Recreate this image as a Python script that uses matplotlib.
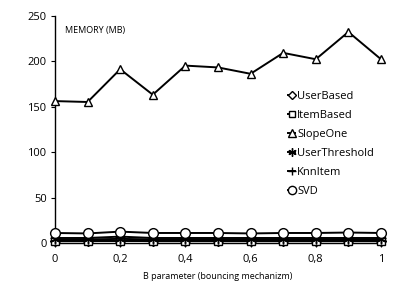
import matplotlib
matplotlib.use("Agg")
import matplotlib.pyplot as plt

plt.rcParams['font.family'] = ['Open Sans', 'DejaVu Sans']

b_param = [0, 0.1, 0.2, 0.3, 0.4, 0.5, 0.6, 0.7, 0.8, 0.9, 1.0]
user_based = [2, 2, 2, 2, 2, 2, 2, 2, 2, 2, 2]
item_based = [2, 2, 2.5, 2, 2, 2, 2, 2, 2, 2, 2]
slope_one = [156, 155, 191, 163, 195, 193, 186, 209, 202, 232, 202]
user_threshold = [4, 4, 4.5, 4, 4, 4, 4, 4, 4, 4, 4]
knn_item = [5.5, 5.5, 7, 5.5, 5.5, 5.5, 5.5, 5.5, 5.5, 5.5, 5.5]
svd = [11, 10.5, 12.5, 11, 11, 11, 10.5, 11, 11, 11.5, 11]

x_ticks = [0, 0.2, 0.4, 0.6, 0.8, 1.0]
x_tick_labels = ['0', '0,2', '0,4', '0,6', '0,8', '1']
y_ticks = [0, 50, 100, 150, 200, 250]

series = [
    ('UserBased', user_based, 'D', 5),
    ('ItemBased', item_based, 's', 5.5),
    ('SlopeOne', slope_one, '^', 6),
    ('UserThreshold', user_threshold, (6, 2, 0), 7),
    ('KnnItem', knn_item, '+', 7),
    ('SVD', svd, 'o', 7),
]

fig = plt.figure(figsize=(4.15, 2.94), dpi=100)
ax = fig.add_axes([0.1325, 0.1735, 0.7855, 0.7735])

for name, vals, marker, ms in series:
    ax.plot(b_param, vals, color='black', lw=1.4, marker=marker, ms=ms,
            mfc='white', mec='black', mew=1.0, label=name, clip_on=False, zorder=3)

ax.set_xlim(0, 1)
ax.set_ylim(0, 250)
ax.set_xticks(x_ticks)
ax.set_xticklabels(x_tick_labels)
ax.set_yticks(y_ticks)
ax.tick_params(labelsize=8, length=3, width=0.8, color='black', pad=3)
ax.tick_params(axis='x', pad=5)
for s in ['top', 'right']:
    ax.spines[s].set_visible(False)
for s in ['left', 'bottom']:
    ax.spines[s].set_linewidth(1.0)

ax.set_xlabel('B parameter (bouncing mechanizm)', fontsize=6.5, labelpad=5)
ax.text(0.03, 0.955, 'MEMORY (MB)', transform=ax.transAxes, fontsize=6.5, va='top')

ax.legend(loc='upper left', bbox_to_anchor=(0.7, 0.69), frameon=False, fontsize=8,
          handlelength=0.7, handletextpad=0.15, labelspacing=0.72, borderaxespad=0,
          markerscale=0.85)

fig.savefig('out.png', dpi=100)
